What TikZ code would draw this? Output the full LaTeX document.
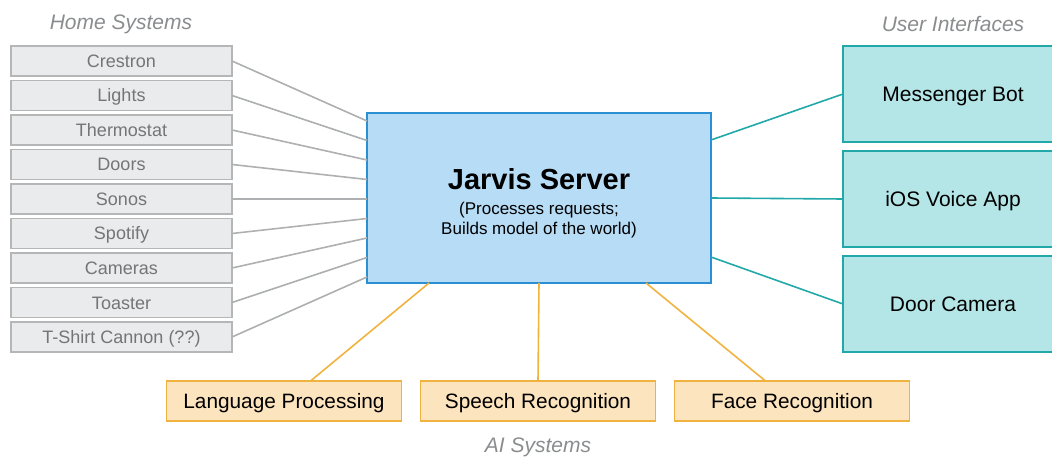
\documentclass[tikz,border=0pt]{standalone}
\usepackage{fontspec}
\setmainfont{Liberation Sans}
\usetikzlibrary{positioning}
\definecolor{homefill}{HTML}{E9EBEC}
\definecolor{homeline}{HTML}{B4B6B7}
\definecolor{hometext}{HTML}{737577}
\definecolor{homewirecol}{HTML}{AEB0B1}
\definecolor{serverfill}{HTML}{B6DCF6}
\definecolor{serverline}{HTML}{2A8FD3}
\definecolor{uifill}{HTML}{B4E6E7}
\definecolor{uiline}{HTML}{22A8A8}
\definecolor{aifill}{HTML}{FCE4BE}
\definecolor{ailine}{HTML}{F1B33F}
\definecolor{headtext}{HTML}{8A8C8E}
\begin{document}
\begin{tikzpicture}
[x=1pt, y=-1pt,
 every node/.style={inner sep=0pt, outer sep=0pt},
 home/.style={draw=homeline, fill=homefill, line width=1.8pt,
   minimum width=221pt, minimum height=30pt, text=hometext,
   text height=13pt, text depth=0pt,
   font=\fontsize{18}{20}\selectfont},
 server/.style={draw=serverline, fill=serverfill, line width=1.8pt,
   minimum width=344pt, minimum height=170pt, align=center,
   font=\fontsize{17}{20}\selectfont},
 ui/.style={draw=uiline, fill=uifill, line width=1.8pt,
   minimum width=220pt, minimum height=96pt,
   text height=15pt, text depth=0pt,
   font=\fontsize{21}{24}\selectfont},
 ai/.style={draw=ailine, fill=aifill, line width=1.8pt,
   minimum width=235pt, minimum height=40pt,
   text height=15pt, text depth=0pt,
   font=\fontsize{20.8}{24}\selectfont},
 head/.style={text=headtext, font=\fontsize{21}{24}\selectfont\itshape},
 homewire/.style={draw=homewirecol, line width=1.6pt},
 uiwire/.style={draw=uiline, line width=1.6pt},
 aiwire/.style={draw=ailine, line width=1.6pt}]
\useasboundingbox (0,0) rectangle (1052,457);

% home systems
\node[head] (homehead) at (121,24) {Home Systems};
\node[home] (crestron) at (121.5,61) {Crestron};
\node[home, below=4.5pt of crestron] (lights) {Lights};
\node[home, below=4.5pt of lights] (thermostat) {Thermostat};
\node[home, below=4.5pt of thermostat] (doors) {Doors};
\node[home, below=4.5pt of doors] (sonos) {Sonos};
\node[home, below=4.5pt of sonos] (spotify) {Spotify};
\node[home, below=4.5pt of spotify] (cameras) {Cameras};
\node[home, below=4.5pt of cameras] (toaster) {Toaster};
\node[home, below=4.5pt of toaster] (tshirt) {T-Shirt Cannon (??)};

% server
\node[server] (jarvis) at (539,198)
{\rule{0pt}{30.6pt}{\fontsize{29}{34}\selectfont\bfseries Jarvis Server}\\[5pt]
 (Processes requests;\\Builds model of the world)};

% user interfaces
\node[head] (uihead) at (953,24) {User Interfaces};
\node[ui] (messenger) at (953,94) {Messenger Bot};
\node[ui, below=9pt of messenger] (iosapp) {iOS Voice App};
\node[ui, below=9pt of iosapp] (doorcam) {Door Camera};

% ai systems
\node[ai] (language) at (284,401) {Language Processing};
\node[ai, right=19pt of language] (speech) {Speech Recognition};
\node[ai, right=19pt of speech] (face) {Face Recognition};
\node[head] (aihead) at (538,447) {AI Systems};

% wires
\draw[homewire] (crestron.east) -- ([yshift=77pt]jarvis.west);
\draw[homewire] (lights.east) -- ([yshift=57.5pt]jarvis.west);
\draw[homewire] (thermostat.east) -- ([yshift=38pt]jarvis.west);
\draw[homewire] (doors.east) -- ([yshift=18.5pt]jarvis.west);
\draw[homewire] (sonos.east) -- (sonos.east -| jarvis.west);
\draw[homewire] (spotify.east) -- ([yshift=-20.5pt]jarvis.west);
\draw[homewire] (cameras.east) -- ([yshift=-40pt]jarvis.west);
\draw[homewire] (toaster.east) -- ([yshift=-59.5pt]jarvis.west);
\draw[homewire] (tshirt.east) -- ([yshift=-79pt]jarvis.west);

\draw[uiwire] ([yshift=58pt]jarvis.east) -- (messenger.west);
\draw[uiwire] (jarvis.east) -- (iosapp.west);
\draw[uiwire] ([yshift=-59pt]jarvis.east) -- (doorcam.west);

\draw[aiwire] ([xshift=-110pt]jarvis.south) -- ([xshift=26.5pt]language.north);
\draw[aiwire] (jarvis.south) -- (speech.north);
\draw[aiwire] ([xshift=107pt]jarvis.south) -- ([xshift=-26.5pt]face.north);
\end{tikzpicture}
\end{document}
